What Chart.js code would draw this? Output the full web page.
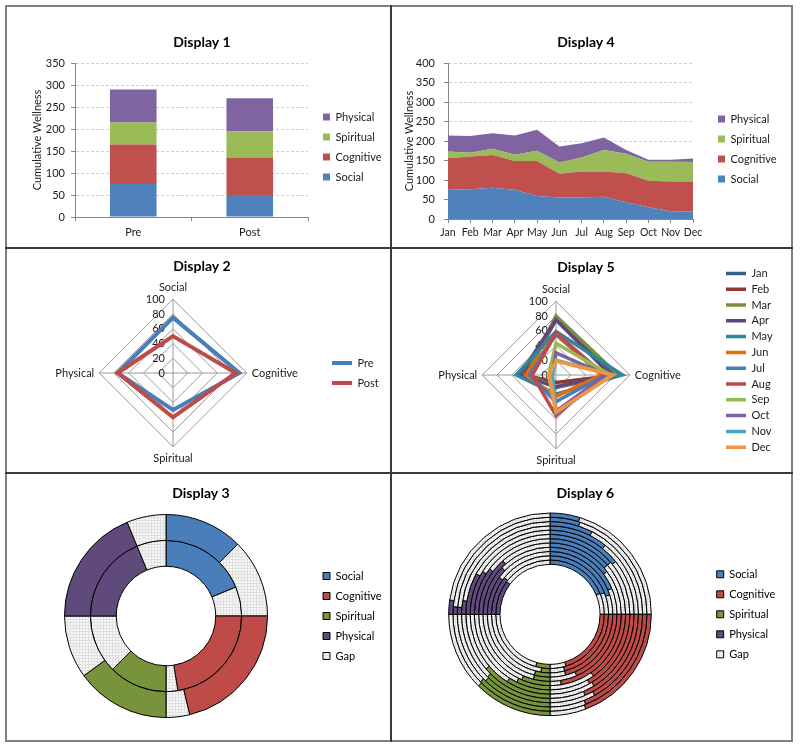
<!DOCTYPE html>
<html><head><meta charset="utf-8">
<script src="https://cdn.jsdelivr.net/npm/chart.js@4.4.1/dist/chart.umd.min.js"></script>
<style>
html,body{margin:0;padding:0;background:#fff;}
#page{position:relative;width:800px;height:749px;overflow:hidden;background:#fff;}
canvas{position:absolute;}
.frame{position:absolute;left:5px;top:5px;width:788px;height:737px;box-sizing:border-box;border:2px solid #808080;}
.ln{position:absolute;background:#3a3a3a;}
</style></head><body>
<div id="page">
  <div class="frame"></div>
  <div class="ln" style="left:390px;top:5px;width:2px;height:737px"></div>
  <div class="ln" style="left:5px;top:247px;width:788px;height:2px"></div>
  <div class="ln" style="left:5px;top:472px;width:788px;height:2px"></div>
  <canvas id="c1" width="383" height="240" style="left:7px;top:7px"></canvas>
  <canvas id="c4" width="400" height="240" style="left:392px;top:7px"></canvas>
  <canvas id="c2" width="383" height="223" style="left:7px;top:249px"></canvas>
  <canvas id="c5" width="400" height="223" style="left:392px;top:249px"></canvas>
  <canvas id="c3" width="383" height="265" style="left:7px;top:475px"></canvas>
  <canvas id="c6" width="400" height="265" style="left:392px;top:475px"></canvas>
</div>
<script>
// ---------------- data ----------------
const dimensions = ['Social', 'Cognitive', 'Spiritual', 'Physical'];
const phases = ['Pre', 'Post'];
const preScores = [75, 90, 50, 75];
const postScores = [50, 85, 60, 75];
const months = ['Jan','Feb','Mar','Apr','May','Jun','Jul','Aug','Sep','Oct','Nov','Dec'];
const socialByMonth    = [75, 76, 80, 75, 59, 55, 55, 57, 43, 30, 20, 19];
const cognitiveByMonth = [81, 84, 84, 74, 90, 61, 67, 65, 74, 68, 76, 77];
const spiritualByMonth = [17, 10, 16, 16, 26, 29, 36, 55, 50, 49, 51, 50];
const physicalByMonth  = [41, 43, 40, 49, 54, 41, 36, 32, 10,  5,  5,  9];
const gapLabel = 'Gap';
const quadrantMax = 100;
const axis1Ticks = {min: 0, max: 350, step: 50};
const axis4Ticks = {min: 0, max: 400, step: 50};
const radarScaleTicks = {min: 0, max: 100, step: 20};

// ---------------- styles ----------------
const dimColors  = ['#4f81bd', '#c0504d', '#9bbb59', '#8064a2'];
const ringColors = ['#4a7ebb', '#be4b48', '#77933c', '#604a7b'];
const phaseColors = ['#4a7ebb', '#be4b48'];
const monthColors = ['#385d8a','#8c3836','#77933c','#5f497a','#31859c','#e46c0a',
                     '#4a7ebb','#be4b48','#98b954','#7d60a0','#46aac5','#f69240'];
const TXT = '#1a1a1a', AXIS = '#868686', GRID = '#d0d0d0', RGRID = '#9a9a9a';

Chart.defaults.font.family = 'Lato';
Chart.defaults.font.size = 11;
Chart.defaults.color = TXT;
Chart.defaults.animation = false;
Chart.defaults.responsive = false;
Chart.defaults.maintainAspectRatio = false;
Chart.defaults.devicePixelRatio = 1;
Chart.defaults.events = [];
Chart.defaults.plugins.tooltip.enabled = false;

function makeGapPattern() {
  const c = document.createElement('canvas'); c.width = 3; c.height = 3;
  const g = c.getContext('2d');
  g.fillStyle = '#f8f8f8'; g.fillRect(0, 0, 3, 3);
  g.fillStyle = '#e0e0e0'; g.fillRect(0, 0, 3, 1); g.fillRect(0, 0, 1, 3);
  return g.createPattern(c, 'repeat');
}
const gapPattern = makeGapPattern();

// empty layout boxes used as spacers around the plot area
function gapBoxes(rightSize, leftSize) {
  const mk = (pos, size) => ({
    position: pos, weight: 0, fullSize: false, options: {display: true},
    left: 0, top: 0, right: 0, bottom: 0, width: size, height: 0,
    isHorizontal() { return false; },
    update(maxW, maxH) { this.width = size; this.height = maxH; },
    draw() {}
  });
  return {
    id: 'gapBoxes',
    beforeInit(chart) {
      if (rightSize) Chart.layouts.addBox(chart, mk('right', rightSize));
      if (leftSize) Chart.layouts.addBox(chart, mk('left', leftSize));
    }
  };
}
function legendSpacer(h) {
  return h > 0 ? {display: true, text: '', font: {size: 1, lineHeight: 1}, padding: {top: h - 1, bottom: 0}} : {display: false};
}
function titleOpts(text, top, bottom) {
  return {display: true, text, color: '#000', font: {size: 14, weight: 'bold'}, padding: {top, bottom}};
}
const radarTickLabels = {
  id: 'radarTickLabels',
  beforeDatasetsDraw(chart) {
    const s = chart.scales.r, ctx = chart.ctx;
    ctx.save();
    ctx.font = '11px Lato'; ctx.fillStyle = TXT; ctx.textAlign = 'right'; ctx.textBaseline = 'middle';
    s.ticks.forEach(t => ctx.fillText(t.label, s.xCenter - 8, s.yCenter - s.getDistanceFromCenterForValue(t.value)));
    ctx.restore();
  }
};
function ringData(scores) { return scores.flatMap(v => [v, quadrantMax - v]); }
function ringFills() { return ringColors.flatMap(c => [c, gapPattern]); }
function ringLabels() { return dimensions.flatMap(d => [d, gapLabel]); }
function ringLegend() {
  return dimensions.map((d, i) => ({text: d, fillStyle: ringColors[i], strokeStyle: '#000', lineWidth: 1, hidden: false, index: i}))
    .concat([{text: gapLabel, fillStyle: gapPattern, strokeStyle: '#000', lineWidth: 1, hidden: false, index: 4}]);
}
const byMonth = [socialByMonth, cognitiveByMonth, spiritualByMonth, physicalByMonth];
function monthScores(m) { return byMonth.map(a => a[m]); }

// ---------------- Display 1 ----------------
new Chart(document.getElementById('c1'), {
  type: 'bar',
  data: {
    labels: phases,
    datasets: dimensions.map((d, i) => ({
      label: d, data: [preScores[i], postScores[i]], backgroundColor: dimColors[i],
      borderWidth: 0, barPercentage: 0.4, categoryPercentage: 1
    }))
  },
  options: {
    layout: {padding: {left: 11, right: 4, top: 0, bottom: 8}},
    scales: {
      x: {stacked: true,
          grid: {display: true, drawOnChartArea: false, drawTicks: true, tickLength: 4, tickColor: AXIS, offset: true},
          border: {color: AXIS}, ticks: {padding: 4.4},
          afterFit(s) { s.height = 22; }},
      y: {stacked: true, min: axis1Ticks.min, max: axis1Ticks.max,
          ticks: {stepSize: axis1Ticks.step, padding: 6},
          grid: {color: c => c.tick && c.tick.value === 0 ? 'rgba(0,0,0,0)' : GRID, tickColor: AXIS, tickLength: 4},
          border: {color: AXIS, dash: [3, 2]},
          title: {display: true, text: 'Cumulative Wellness', padding: {top: 12.4, bottom: 0}},
          afterFit(s) { s.width = 57; }}
    },
    plugins: {
      title: titleOpts('Display 1', 26.6, 12.6),
      legend: {position: 'right', fullSize: false, reverse: true, maxWidth: 72,
               labels: {boxWidth: 7, boxHeight: 7, padding: 9}, title: legendSpacer(14)}
    }
  },
  plugins: [gapBoxes(6, 0)]
});

// ---------------- Display 4 ----------------
new Chart(document.getElementById('c4'), {
  type: 'line',
  data: {
    labels: months,
    datasets: byMonth.map((arr, i) => ({
      label: dimensions[i], data: arr, backgroundColor: dimColors[i], borderColor: 'rgba(0,0,0,0)',
      borderWidth: 0, pointRadius: 0, fill: i === 0 ? 'origin' : '-1', tension: 0
    }))
  },
  options: {
    layout: {padding: {left: 1, right: 13, top: 0, bottom: 6}},
    scales: {
      x: {grid: {display: true, drawOnChartArea: false, drawTicks: true, tickLength: 4, tickColor: AXIS},
          border: {color: AXIS},
          ticks: {padding: 3.4, autoSkip: false, maxRotation: 0, minRotation: 0, font: {size: 10.5}},
          afterFit(s) { s.height = 22; }},
      y: {stacked: true, min: axis4Ticks.min, max: axis4Ticks.max,
          ticks: {stepSize: axis4Ticks.step, padding: 9},
          grid: {color: c => c.tick && c.tick.value === 0 ? 'rgba(0,0,0,0)' : GRID, tickColor: AXIS, tickLength: 4},
          border: {color: AXIS, dash: [3, 2]},
          title: {display: true, text: 'Cumulative Wellness', padding: {top: 9.4, bottom: 0}},
          afterFit(s) { s.width = 55; }}
    },
    plugins: {
      title: titleOpts('Display 4', 26.6, 12.6),
      legend: {position: 'right', fullSize: false, reverse: true, maxWidth: 70,
               labels: {boxWidth: 7, boxHeight: 7, padding: 9}, title: legendSpacer(16)}
    }
  },
  plugins: [gapBoxes(16, 0)]
});

// ---------------- Display 2 ----------------
new Chart(document.getElementById('c2'), {
  type: 'radar',
  data: {
    labels: dimensions,
    datasets: [preScores, postScores].map((arr, i) => ({
      label: phases[i], data: arr, borderColor: phaseColors[i], backgroundColor: phaseColors[i],
      borderWidth: 4, pointRadius: 0, fill: false, order: 2 - i
    }))
  },
  options: {
    layout: {padding: {left: 16, right: 9, top: 0, bottom: 7}},
    scales: {r: {min: radarScaleTicks.min, max: radarScaleTicks.max,
                 ticks: {stepSize: radarScaleTicks.step, display: false},
                 grid: {color: RGRID}, angleLines: {color: RGRID},
                 pointLabels: {font: {size: 11}, color: TXT, padding: 5}}},
    plugins: {
      title: titleOpts('Display 2', 8.6, 6.6),
      legend: {position: 'right', fullSize: false, maxWidth: 58,
               labels: {usePointStyle: true, pointStyle: 'line', pointStyleWidth: 20, padding: 9,
                        sort: (a, b) => a.datasetIndex - b.datasetIndex}}
    }
  },
  plugins: [radarTickLabels]
});

// ---------------- Display 5 ----------------
new Chart(document.getElementById('c5'), {
  type: 'radar',
  data: {
    labels: dimensions,
    datasets: months.map((m, i) => ({
      label: m, data: monthScores(i), borderColor: monthColors[i], backgroundColor: monthColors[i],
      borderWidth: 3.5, pointRadius: 0, fill: false, order: months.length - i
    }))
  },
  options: {
    layout: {padding: {left: 4, right: 16, top: 0, bottom: 5}},
    scales: {r: {min: radarScaleTicks.min, max: radarScaleTicks.max,
                 ticks: {stepSize: radarScaleTicks.step, display: false},
                 grid: {color: RGRID}, angleLines: {color: RGRID},
                 pointLabels: {font: {size: 11}, color: TXT, padding: 5}}},
    plugins: {
      title: titleOpts('Display 5', 10.3, 6.9),
      legend: {position: 'right', fullSize: true, maxWidth: 54.8,
               labels: {usePointStyle: true, pointStyle: 'line', pointStyleWidth: 20, padding: 4.8,
                        sort: (a, b) => a.datasetIndex - b.datasetIndex},
               title: legendSpacer(4.6)}
    }
  },
  plugins: [gapBoxes(19.2, 15), radarTickLabels]
});

// ---------------- Display 3 ----------------
new Chart(document.getElementById('c3'), {
  type: 'doughnut',
  data: {
    labels: ringLabels(),
    datasets: [postScores, preScores].map(arr => ({
      data: ringData(arr), backgroundColor: ringFills(), borderColor: '#000',
      borderWidth: 1, hoverBorderWidth: 1, hoverOffset: 0
    }))
  },
  options: {
    cutout: '49%',
    layout: {padding: {left: 10, right: 5, top: 0, bottom: 22}},
    plugins: {
      title: titleOpts('Display 3', 9.9, 12.3),
      legend: {position: 'right', fullSize: false, maxWidth: 71,
               labels: {boxWidth: 7, boxHeight: 7, padding: 9, color: TXT, generateLabels: ringLegend}}
    }
  },
  plugins: [gapBoxes(1, 2)]
});

// ---------------- Display 6 ----------------
new Chart(document.getElementById('c6'), {
  type: 'doughnut',
  data: {
    labels: ringLabels(),
    datasets: months.map((m, i) => months.length - 1 - i).map(mi => ({
      label: months[mi], data: ringData(monthScores(mi)), backgroundColor: ringFills(), borderColor: '#000',
      borderWidth: 1, hoverBorderWidth: 1, hoverOffset: 0
    }))
  },
  options: {
    cutout: '49.4%',
    layout: {padding: {left: 0.6, right: 14, top: 0, bottom: 23.9}},
    plugins: {
      title: titleOpts('Display 6', 9.9, 10.8),
      legend: {position: 'right', fullSize: false, maxWidth: 70.3,
               labels: {boxWidth: 7, boxHeight: 7, padding: 9, color: TXT, generateLabels: ringLegend}}
    }
  },
  plugins: [gapBoxes(4.7, 4.4)]
});
</script>
</body></html>
